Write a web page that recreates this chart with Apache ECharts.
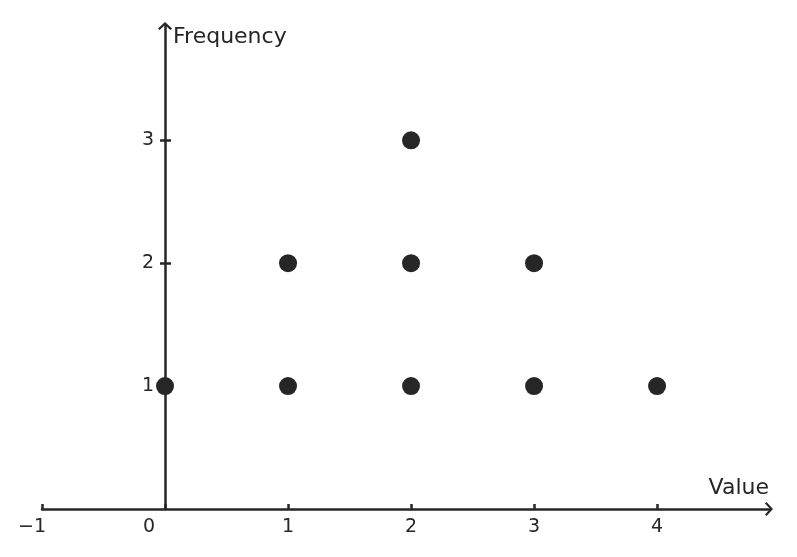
<!DOCTYPE html>
<html><head><meta charset="utf-8">
<script src="https://cdn.jsdelivr.net/npm/echarts@6/dist/echarts.min.js"></script>
<style>html,body{margin:0;padding:0;background:#fff}#c{width:797px;height:557px}</style>
</head><body><div id="c"></div>
<script>
const xValues = [0, 1, 1, 2, 2, 2, 3, 3, 4];
const yValues = [1, 1, 2, 1, 2, 3, 1, 2, 1];
const xTicks = [-1, 0, 1, 2, 3, 4];
const yTicks = [1, 2, 3];
const xName = 'Value';
const yName = 'Frequency';

const ink = '#262626';
const font = 'DejaVu Sans';
const chevron = 'path://M7,0 L14,6.5 L12.4,8 L7,2.9 L1.6,8 L0,6.5 Z';
const points = xValues.map((x, i) => [x, yValues[i]]);

const chart = echarts.init(document.getElementById('c'));
const yBase = {
  type: 'value', min: 0, max: 3.93, interval: 1, position: 'left',
  splitLine: { show: false }
};
chart.setOption({
  animation: false,
  grid: { left: 42, right: 28, top: 26, bottom: 48, containLabel: false, outerBoundsMode: 'none' },
  xAxis: {
    type: 'value', min: -1, max: 4.91, interval: 1,
    name: xName, nameLocation: 'end', nameGap: 0,
    nameTextStyle: { fontFamily: font, fontSize: 22, color: ink, align: 'right', verticalAlign: 'bottom', padding: [0, 0, 10, 0] },
    splitLine: { show: false },
    axisLine: { onZero: false, lineStyle: { color: ink, width: 2.5 },
      symbol: ['none', chevron], symbolSize: [14, 8] },
    axisTick: { inside: true, length: 5, lineStyle: { color: ink, width: 2.5 },
      customValues: xTicks },
    axisLabel: {
      fontFamily: font, fontSize: 19, color: ink, margin: 9,
      customValues: xTicks,
      formatter: v => v === 0 ? '{z|0}' : (v < 0 ? '{n|\u2212' + Math.abs(v) + '}' : String(v)),
      rich: {
        z: { fontFamily: font, fontSize: 19, color: ink, padding: [0, 32, 0, 0] },
        n: { fontFamily: font, fontSize: 19, color: ink, padding: [0, 20, 0, 0] }
      }
    }
  },
  yAxis: [
    Object.assign({}, yBase, {
      name: yName, nameLocation: 'end', nameGap: -11,
      nameTextStyle: { fontFamily: font, fontSize: 22, color: ink, align: 'left', verticalAlign: 'middle', padding: [0, 0, 0, 8] },
      axisLine: { show: true, onZero: true, lineStyle: { color: ink, width: 2.5 },
        symbol: ['none', chevron], symbolSize: [14, 8] },
      axisTick: { inside: false, length: 5, lineStyle: { color: ink, width: 2.5 }, customValues: yTicks },
      axisLabel: { show: false }
    }),
    Object.assign({}, yBase, {
      offset: -123,
      axisLine: { show: false, onZero: false },
      axisTick: { show: true, inside: true, length: 6, lineStyle: { color: ink, width: 2.5 }, customValues: yTicks },
      axisLabel: { show: true, fontFamily: font, fontSize: 19, color: ink, margin: 11, customValues: yTicks }
    })
  ],
  series: [{
    type: 'scatter', yAxisIndex: 0, data: points, symbolSize: 18,
    itemStyle: { color: ink, opacity: 1 }, z: 5
  }]
});
</script></body></html>
